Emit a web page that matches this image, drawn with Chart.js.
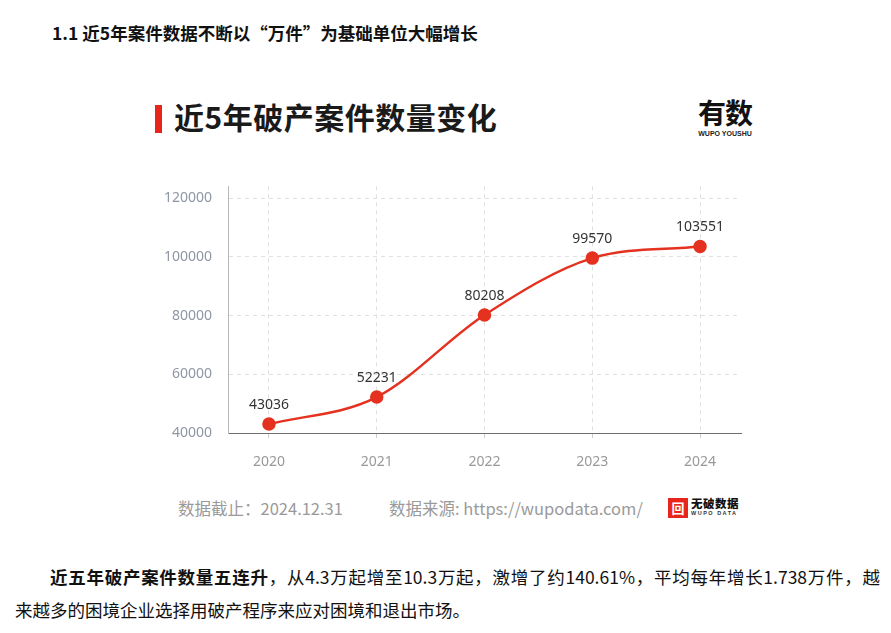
<!DOCTYPE html>
<html>
<head>
<meta charset="utf-8">
<script src="https://cdn.jsdelivr.net/npm/chart.js@4.4.1/dist/chart.umd.min.js"></script>
<style>
  html, body { margin: 0; padding: 0; background: #fff; }
  body { width: 891px; height: 633px; position: relative; overflow: hidden;
         font-family: "Noto Sans CJK SC", "Noto Sans", sans-serif; }
  .abs { position: absolute; white-space: nowrap; }
  #heading { left: 52px; top: 21px; font-size: 17.5px; font-weight: bold; color: #111; line-height: 24px; }
  #bar { left: 155px; top: 105px; width: 7px; height: 28px; background: #e8251b; }
  #title { left: 174px; top: 95px; font-size: 30px; font-weight: bold; color: #1a1a1a; line-height: 42px; letter-spacing: 0.5px; }
  #logo { left: 695px; top: 95px; width: 60px; text-align: center; }
  #logo .big { font-size: 28px; font-weight: bold; color: #111; line-height: 34px; letter-spacing: -1px; }
  #logo .small { font-size: 7px; font-weight: bold; color: #222; line-height: 9px; font-family: "Liberation Sans", sans-serif; }
  #wrap { left: 150px; top: 162px; width: 620px; height: 315px; }
  .foot { top: 497px; font-size: 16.5px; color: #9a9a9a; line-height: 22px; }
  #wlogo { left: 668px; top: 498px; width: 20px; height: 20px; background: #e8251b; color: #fff;
           font-size: 13px; font-weight: bold; text-align: center; line-height: 20px; }
  #wtxt { left: 691px; top: 497px; line-height: 13px; }
  #wtxt .a { font-size: 11.5px; font-weight: 900; color: #111; letter-spacing: 0.5px; }
  #wtxt .b { font-size: 5.5px; font-weight: bold; color: #333; letter-spacing: 1.5px; font-family: "Liberation Sans", sans-serif; line-height: 7px; }
  .para { font-size: 17.5px; color: #111; line-height: 33px; }
  #p1 { left: 50px; top: 560px; width: 830px; text-align: justify; text-align-last: justify; white-space: normal; }
  #p2 { left: 15px; top: 593px; }
</style>
</head>
<body>
<div id="heading" class="abs">1.1 近5年案件数据不断以“万件”为基础单位大幅增长</div>
<div id="bar" class="abs"></div>
<div id="title" class="abs">近5年破产案件数量变化</div>
<div id="logo" class="abs"><div class="big">有数</div><div class="small">WUPO YOUSHU</div></div>
<div id="wrap" class="abs"><canvas id="chart"></canvas></div>
<div class="abs foot" style="left:178px">数据截止：2024.12.31</div>
<div class="abs foot" style="left:389px">数据来源: https://wupodata.com/</div>
<div id="wlogo" class="abs">回</div>
<div id="wtxt" class="abs"><div class="a">无破数据</div><div class="b">WUPO DATA</div></div>
<div id="p1" class="abs para"><b>近五年破产案件数量五连升</b>，从4.3万起增至10.3万起，激增了约140.61%，平均每年增长1.738万件，越</div>
<div id="p2" class="abs para">来越多的困境企业选择用破产程序来应对困境和退出市场。</div>

<script>
const years = ["2020", "2021", "2022", "2023", "2024"];
const cases = [43036, 52231, 80208, 99570, 103551];
const yTicks = [40000, 60000, 80000, 100000, 120000];

const red = "#e5311f";

// draw the value above each point
const valueLabels = {
  id: "valueLabels",
  afterDatasetsDraw(chart) {
    const ctx = chart.ctx;
    const meta = chart.getDatasetMeta(0);
    ctx.save();
    ctx.font = "14px 'Noto Sans', sans-serif";
    ctx.fillStyle = "#333";
    ctx.textAlign = "center";
    ctx.textBaseline = "middle";
    meta.data.forEach((pt, i) => {
      ctx.fillText(String(cases[i]), pt.x, pt.y - 19);
    });
    ctx.restore();
  }
};

new Chart(document.getElementById("chart"), {
  type: "line",
  data: {
    datasets: [{
      data: cases.map((v, i) => ({ x: i, y: v })),
      borderColor: red,
      backgroundColor: red,
      borderWidth: 2.5,
      pointRadius: 5.5,
      pointHoverRadius: 5.5,
      pointBackgroundColor: red,
      pointBorderColor: red,
      cubicInterpolationMode: "monotone",
      fill: false
    }]
  },
  options: {
    responsive: true,
    maintainAspectRatio: false,
    animation: false,
    layout: { padding: { top: 11, right: 29, left: 0, bottom: 0 } },
    plugins: { legend: { display: false }, tooltip: { enabled: false } },
    scales: {
      x: {
        type: "linear",
        min: -0.38,
        max: 4.38,
        afterBuildTicks: (s) => { s.ticks = years.map((y, i) => ({ value: i })); },
        afterFit: (s) => { s.height = 44; },
        ticks: {
          callback: (v) => years[v],
          color: "#999",
          padding: 16,
          maxRotation: 0,
          font: { size: 14, family: "'Noto Sans', sans-serif" }
        },
        grid: {
          color: "#e0e0e0",
          tickLength: 5,
          tickColor: "#ccc"
        },
        border: { color: "#6e6e6e", width: 1, dash: [4, 4] }
      },
      y: {
        min: 40000,
        max: 124000,
        afterBuildTicks: (s) => { s.ticks = yTicks.map((v) => ({ value: v })); },
        afterFit: (s) => { s.width = 78; },
        ticks: {
          callback: (v) => String(v),
          color: "#8e97a4",
          padding: 16,
          font: { size: 14, family: "'Noto Sans', sans-serif" }
        },
        grid: {
          color: "#e0e0e0",
          drawTicks: false
        },
        border: { color: "#b8b8b8", width: 1, dash: [4, 4] }
      }
    }
  },
  plugins: [valueLabels]
});
</script>
</body>
</html>
